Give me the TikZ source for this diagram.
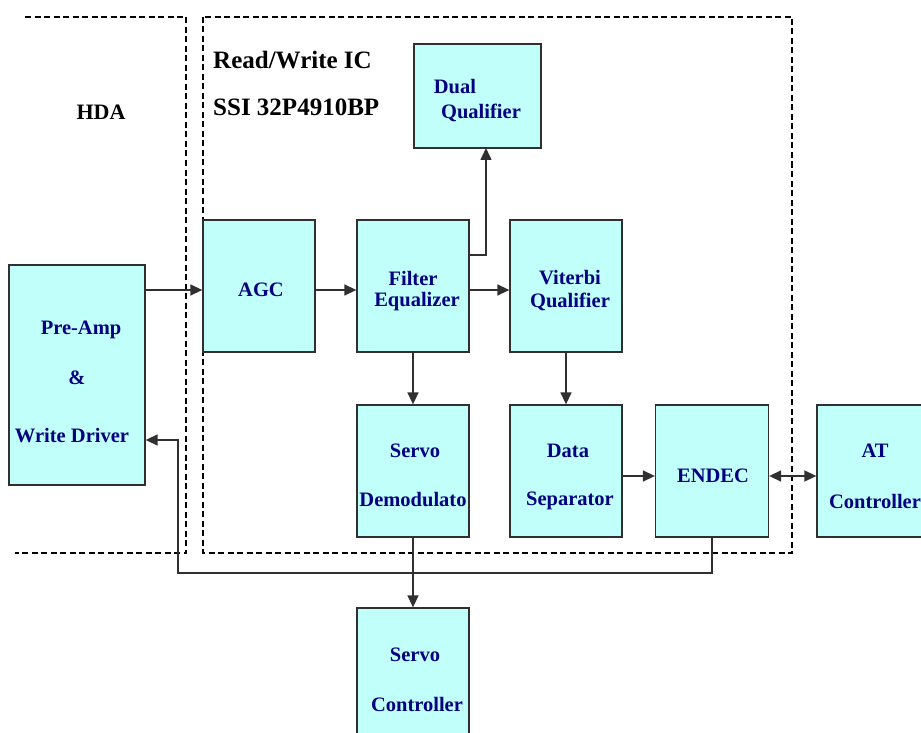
\documentclass[tikz,border=0pt]{standalone}
\usepackage{fontspec}
\setmainfont{Liberation Serif}
\usetikzlibrary{arrows.meta}
\definecolor{boxfill}{RGB}{192,255,250}
\definecolor{navy}{RGB}{0,0,128}
\definecolor{linegray}{RGB}{48,48,48}
\tikzset{
  blk/.style={draw=linegray, line width=1.3pt, fill=boxfill, rectangle, inner sep=0pt},
  lbl/.style={text=navy, font=\fontsize{20.5}{24}\selectfont\bfseries, inner sep=0pt, anchor=center},
  ttl/.style={text=black, font=\fontsize{25}{30}\selectfont\bfseries, inner sep=0pt},
  region/.style={draw=black, line width=1.6pt, dash pattern=on 6pt off 3.5pt},
  tip/.tip={Triangle[length=12pt,width=11pt]},
  arr/.style={draw=linegray, line width=1.5pt, -tip},
  darr/.style={draw=linegray, line width=1.5pt, tip-tip},
  wire/.style={draw=linegray, line width=1.5pt}
}
\begin{document}
\begin{tikzpicture}[x=1pt,y=-1pt]
\useasboundingbox (0,0) rectangle (921,733);
% dashed regions
\draw[region] (25,17) -- (186,17) -- (186,553) -- (15,553);
\draw[region] (203,17) rectangle (792,553);
% titles
\node[ttl, anchor=west] (t1) at (213,60) {Read/Write IC};
\node[ttl, anchor=west] (t2) at (213,107) {SSI 32P4910BP};
\node[ttl, font=\fontsize{22}{26}\selectfont\bfseries] (hda) at (101,112) {HDA};
% boxes
\node[blk, minimum width=127pt, minimum height=104pt] (dual) at (477.5,96) {};
\node[blk, minimum width=112pt, minimum height=132pt] (agc) at (259,286) {};
\node[blk, minimum width=112pt, minimum height=132pt] (filt) at (413,286) {};
\node[blk, minimum width=112pt, minimum height=132pt] (vit) at (566,286) {};
\node[blk, minimum width=136pt, minimum height=220pt] (pre) at (77,375) {};
\node[blk, minimum width=112pt, minimum height=132pt] (sdem) at (413,471) {};
\node[blk, minimum width=112pt, minimum height=132pt] (dsep) at (566,471) {};
\node[blk, minimum width=113pt, minimum height=132pt] (endec) at (712,471) {};
\node[blk, minimum width=112pt, minimum height=132pt] (atc) at (873,471) {};
\node[blk, minimum width=112pt, minimum height=132pt] (sctl) at (413,674) {};
% labels
\node[lbl] (l1) at (455,87) {Dual};
\node[lbl] (l2) at (481,113) {Qualifier};
\node[lbl] (l3) at (261,290) {AGC};
\node[lbl] (l4) at (413,278) {Filter};
\node[lbl] (l5) at (417,302) {Equalizer};
\node[lbl] (l6) at (570,278) {Viterbi};
\node[lbl] (l7) at (570,302) {Qualifier};
\node[lbl] (l8) at (81,330) {Pre-Amp};
\node[lbl] (l9) at (77,378) {\&};
\node[lbl] (l10) at (72,436) {Write Driver};
\node[lbl] (l11) at (415,451) {Servo};
\node[lbl] (l12) at (413,500) {Demodulato};
\node[lbl] (l13) at (568,451) {Data};
\node[lbl] (l14) at (570,501) {Separator};
\node[lbl] (l15) at (713,476) {ENDEC};
\node[lbl] (l16) at (875,451) {AT};
\node[lbl] (l17) at (875,501) {Controller};
\node[lbl] (l18) at (415,655) {Servo};
\node[lbl] (l19) at (417,704) {Controller};
% connectors
\draw[arr] (pre.east |- 0,290) -- (agc.west |- 0,290);
\draw[arr] (agc.east |- 0,290) -- (filt.west |- 0,290);
\draw[arr] (filt.east |- 0,290) -- (vit.west |- 0,290);
\coordinate (fd1) at (469,255);
\coordinate (fd2) at (486,148);
\draw[arr] (fd1) -| (fd2);
\draw[arr] (filt.south) -- (sdem.north);
\draw[arr] (vit.south) -- (dsep.north);
\draw[arr] (dsep.east |- 0,476) -- (endec.west |- 0,476);
\draw[darr] (endec.east |- 0,476) -- (atc.west |- 0,476);
\draw[arr] (sdem.south) -- (sctl.north);
\coordinate (e1) at (712,573);
\coordinate (e2) at (178,440);
\draw[arr] (endec.south) -- (e1) -- (178,573) -- (e2) -- (pre.east |- e2);
\end{tikzpicture}
\end{document}
